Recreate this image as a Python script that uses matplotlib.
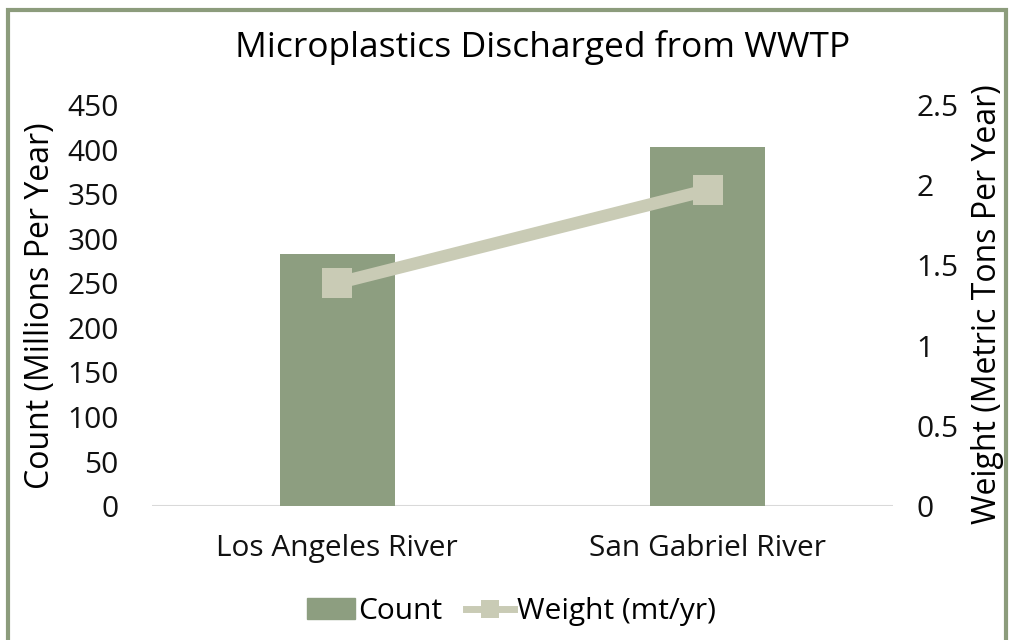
import numpy as np
import matplotlib.pyplot as plt
from matplotlib.patches import Rectangle
from matplotlib.lines import Line2D
from matplotlib.patches import Patch

rivers = ["Los Angeles River", "San Gabriel River"]
count = [283, 403]        # millions per year
weight = [1.39, 1.97]     # metric tons per year

bar_color = '#8D9E80'
line_color = '#C9CBB5'
plt.rcParams['font.family'] = ['Open Sans', 'DejaVu Sans']

fig = plt.figure(figsize=(10.13, 6.4), dpi=100)
ax = fig.add_axes([0.150, 0.209, 0.7315, 0.627])
ax2 = ax.twinx()

x = np.arange(len(rivers))
ax.bar(x, count, 0.31, color=bar_color, zorder=2)
ax2.plot(x, weight, color=line_color, lw=9, marker='s', ms=21,
         markeredgewidth=0, zorder=3)

ax.set_xlim(-0.5, 1.5)
ax.set_ylim(0, 450)
ax.set_yticks(np.arange(0, 451, 50))
ax2.set_ylim(0, 2.5)
ax2.set_yticks([0, 0.5, 1, 1.5, 2, 2.5])
ax2.set_yticklabels(['0', '0.5', '1', '1.5', '2', '2.5'])
ax.set_xticks(x)
ax.set_xticklabels(rivers)

for a in (ax, ax2):
    for s in a.spines.values():
        s.set_visible(False)
    a.tick_params(length=0, labelsize=21.5, colors='#111111')
ax.axhline(0, color='#D9D9D9', lw=1.5, zorder=1)
ax.tick_params(axis='x', pad=20)
ax.tick_params(axis='y', pad=24)
ax2.tick_params(axis='y', pad=17)

fig.text(0.040, 0.522, "Count (Millions Per Year)", rotation=90,
         ha='center', va='center', fontsize=23)
fig.text(0.975, 0.525, "Weight (Metric Tons Per Year)", rotation=90,
         ha='center', va='center', fontsize=23)
fig.text(0.536, 0.926, "Microplastics Discharged from WWTP",
         ha='center', va='center', fontsize=25.5)

handles = [Patch(color=bar_color, label='Count'),
           Line2D([], [], color=line_color, lw=5, marker='s', ms=13,
                  markeredgewidth=0, label='Weight (mt/yr)')]
fig.legend(handles=handles, loc='center', bbox_to_anchor=(0.505, 0.044),
           ncol=2, frameon=False, fontsize=21.5, handlelength=1.6,
           handletextpad=0.1, columnspacing=0.8)

# outer chart border
fig.patches.append(Rectangle((0.008, -0.01), 0.985, 0.995,
                             transform=fig.transFigure, fill=False,
                             edgecolor='#8C9C7C', lw=3))

plt.savefig("out.png", dpi=100)
